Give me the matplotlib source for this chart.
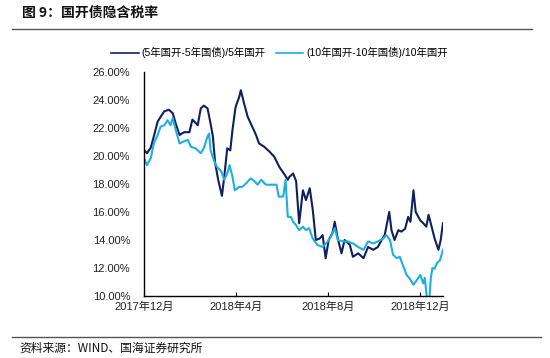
import matplotlib
matplotlib.use("Agg")
import matplotlib.pyplot as plt
import matplotlib.dates as mdates
from matplotlib.lines import Line2D
from matplotlib.ticker import FuncFormatter
import pandas as pd

plt.rcParams['font.family'] = ['Liberation Sans', 'Noto Sans CJK SC', 'DejaVu Sans']

# (5年国开-5年国债)/5年国开, %
dates_5y = ['2017-12-01', '2017-12-05', '2017-12-10', '2017-12-14', '2017-12-19', '2017-12-23',
            '2017-12-28', '2018-01-03', '2018-01-08', '2018-01-12', '2018-01-17', '2018-01-23',
            '2018-01-30', '2018-02-03', '2018-02-10', '2018-02-14', '2018-02-18', '2018-02-23',
            '2018-02-27', '2018-03-02', '2018-03-05', '2018-03-09', '2018-03-14', '2018-03-17',
            '2018-03-21', '2018-03-25', '2018-03-28', '2018-04-01', '2018-04-06', '2018-04-08',
            '2018-04-12', '2018-04-17', '2018-04-23', '2018-04-28', '2018-05-02', '2018-05-09',
            '2018-05-16', '2018-05-22', '2018-05-29', '2018-06-05', '2018-06-09', '2018-06-11',
            '2018-06-16', '2018-06-20', '2018-06-24', '2018-06-29', '2018-07-03', '2018-07-08',
            '2018-07-12', '2018-07-16', '2018-07-21', '2018-07-25', '2018-07-29', '2018-08-02',
            '2018-08-07', '2018-08-10', '2018-08-14', '2018-08-19', '2018-08-23', '2018-08-30',
            '2018-09-03', '2018-09-10', '2018-09-17', '2018-09-23', '2018-09-30', '2018-10-06',
            '2018-10-11', '2018-10-15', '2018-10-21', '2018-10-24', '2018-10-28', '2018-11-02',
            '2018-11-06', '2018-11-11', '2018-11-15', '2018-11-18', '2018-11-22', '2018-11-25',
            '2018-12-01', '2018-12-05', '2018-12-09', '2018-12-12', '2018-12-16', '2018-12-20',
            '2018-12-25', '2018-12-28', '2018-12-31']
rate_5y = [20.43, 20.2, 20.6, 21.4, 22.45, 22.8,
           23.2, 23.3, 23.05, 22.3, 21.5, 21.7,
           21.7, 22.6, 22.2, 23.4, 23.6, 23.4,
           22.3, 21.4, 19.5, 18.3, 17.15, 18.5,
           20.55, 20.4, 21.9, 23.5, 24.25, 24.7,
           23.8, 22.8, 22.1, 21.5, 20.9, 20.65,
           20.3, 19.95, 19.2, 18.65, 18.3, 18.5,
           18.75, 18.2, 15.2, 17.55, 16.85, 17.7,
           16.15, 14.0, 14.1, 14.35, 12.7, 14.0,
           14.5, 15.3, 14.1, 13.05, 14.0, 13.65,
           12.8, 13.05, 12.7, 13.5, 13.3, 13.5,
           14.0, 14.35, 16.0, 14.7, 14.0, 14.7,
           14.6, 14.8, 15.65, 15.3, 17.55, 16.0,
           15.4, 15.2, 14.95, 15.8, 14.95, 14.1,
           13.3, 14.0, 15.2]

# (10年国开-10年国债)/10年国开, %
dates_10y = ['2017-12-01', '2017-12-05', '2017-12-10', '2017-12-14', '2017-12-19', '2017-12-23',
             '2017-12-28', '2018-01-01', '2018-01-05', '2018-01-08', '2018-01-12', '2018-01-17',
             '2018-01-21', '2018-01-28', '2018-02-01', '2018-02-07', '2018-02-14', '2018-02-18',
             '2018-02-23', '2018-02-25', '2018-02-27', '2018-03-04', '2018-03-07', '2018-03-13',
             '2018-03-17', '2018-03-21', '2018-03-24', '2018-03-28', '2018-03-31', '2018-04-06',
             '2018-04-10', '2018-04-15', '2018-04-21', '2018-04-26', '2018-04-30', '2018-05-05',
             '2018-05-11', '2018-05-18', '2018-05-25', '2018-05-28', '2018-06-03', '2018-06-06',
             '2018-06-09', '2018-06-13', '2018-06-16', '2018-06-20', '2018-06-24', '2018-06-29',
             '2018-07-03', '2018-07-07', '2018-07-12', '2018-07-18', '2018-07-25', '2018-08-01',
             '2018-08-05', '2018-08-10', '2018-08-14', '2018-08-21', '2018-08-27', '2018-09-03',
             '2018-09-10', '2018-09-17', '2018-09-23', '2018-09-30', '2018-10-06', '2018-10-13',
             '2018-10-17', '2018-10-22', '2018-10-26', '2018-10-31', '2018-11-04', '2018-11-08',
             '2018-11-13', '2018-11-17', '2018-11-22', '2018-11-26', '2018-12-01', '2018-12-05',
             '2018-12-07', '2018-12-10', '2018-12-13', '2018-12-15', '2018-12-17', '2018-12-20',
             '2018-12-23', '2018-12-27', '2018-12-31']
rate_10y = [19.85, 19.35, 19.85, 20.9, 21.5, 22.1,
            22.2, 22.55, 22.2, 22.7, 21.85, 20.9,
            21.0, 21.15, 20.65, 20.55, 20.2, 20.55,
            21.4, 21.6, 20.4, 19.6, 19.25, 18.9,
            18.3, 18.75, 19.35, 18.5, 17.55, 17.8,
            17.8, 18.05, 18.4, 18.2, 17.95, 18.3,
            17.95, 17.95, 17.95, 17.1, 17.1, 18.3,
            15.65, 15.65, 15.3, 15.05, 14.7, 14.95,
            14.7, 14.85, 14.1, 13.65, 13.5, 13.9,
            14.25, 14.85, 14.0, 13.9, 13.9, 13.75,
            13.5, 13.3, 13.9, 13.75, 13.9, 14.1,
            14.35, 14.0, 12.95, 12.7, 12.8, 12.2,
            11.5, 11.25, 10.8, 11.1, 11.5, 10.9,
            11.3, 9.7, 9.8, 11.3, 12.0, 11.95,
            12.35, 12.55, 13.3]

tick_dates = ['2017-12-01', '2018-04-01', '2018-08-01', '2018-12-01']
tick_labels = ['2017年12月', '2018年4月', '2018年8月', '2018年12月']
label_5y = '(5年国开-5年国债)/5年国开'
label_10y = '(10年国开-10年国债)/10年国开'

navy = '#101f5e'
cyan = '#1eaee2'

fig = plt.figure(figsize=(5.5, 3.58), dpi=100)
ax = fig.add_axes([0.2618, 0.1732, 0.5436, 0.6257])

ax.plot(pd.to_datetime(dates_5y), rate_5y, color=navy, lw=1.5)
ax.plot(pd.to_datetime(dates_10y), rate_10y, color=cyan, lw=1.5)

ax.set_ylim(10, 26)
ax.set_yticks(range(10, 27, 2))
ax.yaxis.set_major_formatter(FuncFormatter(lambda v, p: f'{v:.2f}%'))
ax.set_xlim(pd.Timestamp('2017-12-01'), pd.Timestamp('2018-12-31'))
ax.set_xticks(pd.to_datetime(tick_dates))
ax.set_xticklabels(tick_labels)

for s in ['top', 'right']:
    ax.spines[s].set_visible(False)
for s in ['left', 'bottom']:
    ax.spines[s].set_color('black')
    ax.spines[s].set_linewidth(1.0)
ax.tick_params(axis='y', length=0, pad=10, labelsize=8, colors='#222222')
ax.tick_params(axis='x', direction='in', length=3, pad=4, labelsize=8, colors='#222222')
ax.tick_params(axis='x', colors='black', labelcolor='#222222')

handles = [Line2D([], [], color=navy, lw=1.2), Line2D([], [], color=cyan, lw=1.2)]
fig.legend(handles, [label_5y, label_10y], loc='center left', bbox_to_anchor=(0.195, 0.853),
           ncol=2, frameon=False, fontsize=7.5, handlelength=2.6, handletextpad=0.3,
           columnspacing=1.0, borderaxespad=0)

# header and footer
fig.text(0.04, 0.965, '图 9：国开债隐含税率', fontsize=10, fontweight='bold',
         family=['Noto Sans CJK SC'], va='center', ha='left', color='#111111')
fig.add_artist(Line2D([0.022, 0.968], [0.919, 0.919], color='#555555', lw=1.0))
fig.add_artist(Line2D([0.022, 0.983], [0.059, 0.059], color='#555555', lw=1.0))
fig.text(0.036, 0.028, '资料来源：WIND、国海证券研究所', fontsize=8.5,
         family=['Noto Sans CJK SC'], va='center', ha='left', color='#111111')

fig.savefig('out.png', dpi=100)
